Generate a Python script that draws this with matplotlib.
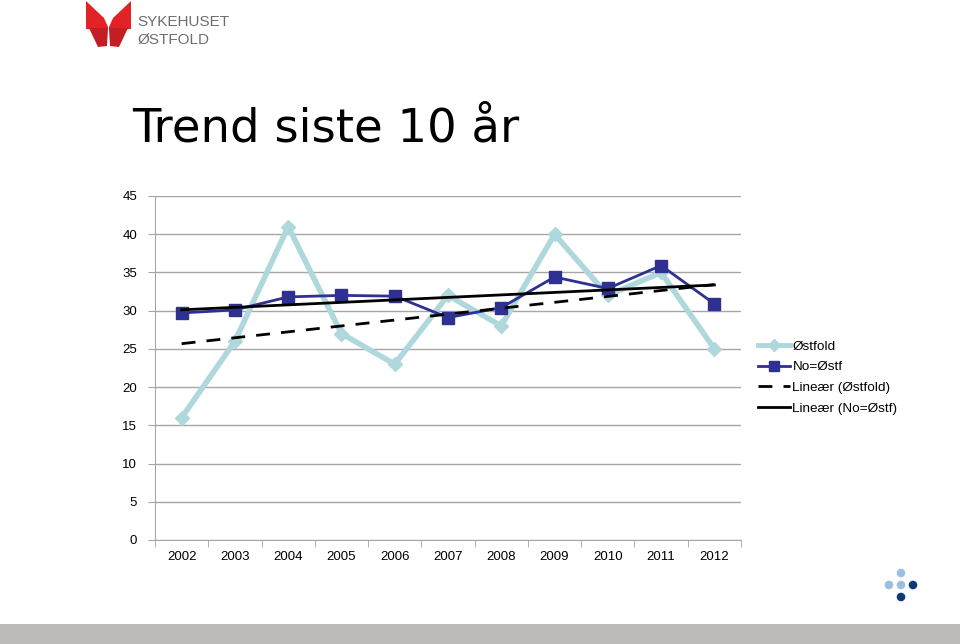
import numpy as np
import matplotlib
matplotlib.use("Agg")
import matplotlib.pyplot as plt
from matplotlib.patches import Polygon, Rectangle, Circle
from matplotlib.lines import Line2D
from matplotlib.transforms import Affine2D

years = ["2002", "2003", "2004", "2005", "2006", "2007", "2008", "2009", "2010", "2011", "2012"]
ostfold = [16, 26, 41, 27, 23, 32, 28, 40, 32, 35, 25]
no_ostf = [29.7, 30.1, 31.8, 32.0, 31.9, 29.1, 30.4, 34.4, 32.9, 35.9, 30.9]
yticks = [0, 5, 10, 15, 20, 25, 30, 35, 40, 45]
legend_labels = ["Østfold", "No=Østf", "Lineær (Østfold)", "Lineær (No=Østf)"]

plt.rcParams['font.family'] = ['Liberation Sans', 'DejaVu Sans']

W, H = 960, 644
fig = plt.figure(figsize=(W / 100, H / 100), dpi=100)
# pixel transform with origin at top-left
pix = Affine2D().scale(1, -1).translate(0, H)

def fx(px):
    return px / W

def fy(py):
    return 1 - py / H

# Axes
ax = fig.add_axes([fx(155), fy(540), fx(741) - fx(155), fy(196) - fy(540)])
x = np.arange(len(years))

c_light = "#aed8dc"
c_dark = "#2e3192"

ax.plot(x, ostfold, color=c_light, lw=4, marker="D", ms=7, mfc=c_light, mec=c_light, zorder=3)
ax.plot(x, no_ostf, color=c_dark, lw=2, marker="s", ms=8, mfc=c_dark, mec=c_dark, zorder=4)

p1 = np.polyfit(x, ostfold, 1)
p2 = np.polyfit(x, no_ostf, 1)
ax.plot(x, np.polyval(p1, x), color="black", lw=2, ls=(0, (5, 4)), zorder=5)
ax.plot(x, np.polyval(p2, x), color="black", lw=2, zorder=5)

ax.set_xlim(-0.5, len(years) - 0.5)
ax.set_ylim(0, 45)
ax.set_yticks(yticks)
ax.set_yticklabels([str(v) for v in yticks], fontsize=9.5)
ax.yaxis.grid(True, color="#a6a6a6", lw=1)
ax.set_axisbelow(True)
ax.set_xticks(x)
ax.set_xticklabels(years, fontsize=9.5)
ax.set_xticks(np.arange(-0.5, len(years) + 0.5, 1), minor=True)
ax.tick_params(axis="x", which="major", length=0, pad=8)
ax.tick_params(axis="x", which="minor", length=5, color="#a6a6a6")
ax.tick_params(axis="y", length=5, color="#a6a6a6", pad=8)
for s in ["top", "right"]:
    ax.spines[s].set_visible(False)
ax.spines["left"].set_color("#a6a6a6")
ax.spines["bottom"].set_color("#a6a6a6")

handles = [
    Line2D([], [], color=c_light, lw=3.5, marker="D", ms=6, mfc=c_light, mec=c_light),
    Line2D([], [], color=c_dark, lw=2, marker="s", ms=7, mfc=c_dark, mec=c_dark),
    Line2D([], [], color="black", lw=2, ls=(0, (5, 4))),
    Line2D([], [], color="black", lw=2),
]
fig.legend(handles, legend_labels, loc="upper left", bbox_to_anchor=(fx(746), fy(328)),
           frameon=False, fontsize=9.7, handlelength=2.4, handletextpad=0.15,
           labelspacing=0.62, markerfirst=True)

# Title
fig.text(fx(132), fy(142), "Trend siste 10 år", fontsize=33.5, va="baseline", ha="left",
         color="black", family=["DejaVu Sans"])

# Logo butterfly
red = "#e32227"
red2 = "#c41d23"
upper_l = [(86, 1), (104, 18), (108, 27), (108, 30), (86, 29)]
upper_r = [(131, 1), (113, 18), (109, 27), (109, 30), (131, 29)]
lower_l = [(89, 28), (108, 28), (107, 46), (98, 47)]
lower_r = [(128, 28), (109, 28), (110, 46), (119, 47)]
for poly, col in [(upper_l, red), (upper_r, red), (lower_l, red2), (lower_r, red2)]:
    fig.patches.append(Polygon(poly, closed=True, transform=pix,
                               facecolor=col, edgecolor="none"))
fig.text(fx(137), fy(22.5), "SYKEHUSET", fontsize=11, color="#6d6e70", va="center", ha="left")
fig.text(fx(137), fy(39.5), "ØSTFOLD", fontsize=11, color="#6d6e70", va="center", ha="left")

# Bottom gray band
fig.patches.append(Rectangle((0, 624), W, 20, transform=pix,
                             facecolor="#bdbab8", edgecolor="none"))

# Dots bottom right
light_dot = "#9dbfdf"
dark_dot = "#0e3a7a"
dots = [(901, 573, light_dot), (889, 585, light_dot), (901, 585, light_dot),
        (913, 585, dark_dot), (901, 597, dark_dot)]
for cx, cy, col in dots:
    fig.patches.append(Circle((cx, cy), 4.3, transform=pix,
                              facecolor=col, edgecolor="none"))

fig.savefig("out.png", dpi=100)
